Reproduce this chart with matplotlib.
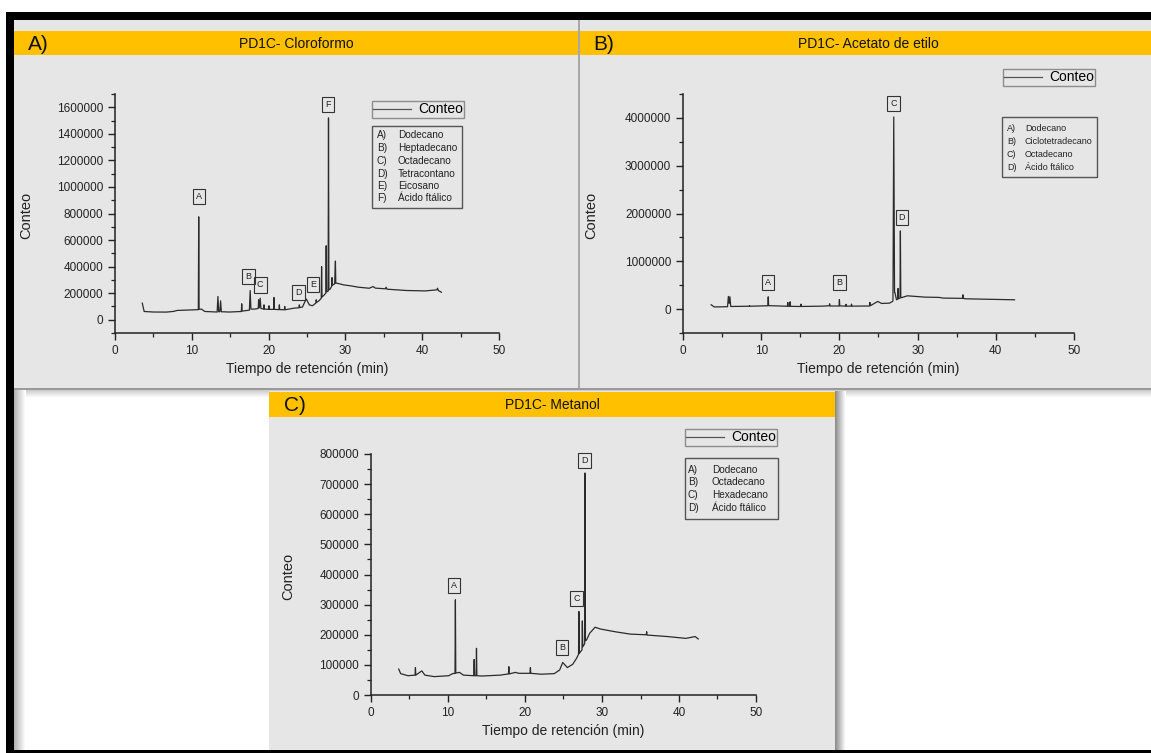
import numpy as np
import matplotlib
matplotlib.use("Agg")
import matplotlib.pyplot as plt
from matplotlib.patches import Rectangle
from matplotlib.ticker import MultipleLocator, StrMethodFormatter

plt.rcParams['font.family'] = ['Liberation Sans', 'DejaVu Sans']
NARROW = ['Liberation Sans Narrow', 'Liberation Sans', 'DejaVu Sans']

# -----------------------------
# Data
# -----------------------------
# A) PD1C- Cloroformo
t_a = [3.55, 3.8, 5.0, 6.7, 7.6, 8.1, 10.5, 10.85, 10.9, 10.95, 11.25, 11.7,
       13.3, 13.4, 13.5, 13.65, 13.75, 13.85, 14.9, 16.45, 16.5, 16.55,
       17.5, 17.6, 17.7, 18.2, 18.65, 18.7, 18.8, 18.9, 19.0, 19.35, 19.4, 19.45,
       20.0, 20.05, 20.1, 20.65, 20.7, 20.75, 21.35, 21.4, 21.45, 22.05, 22.1, 22.15,
       23.3, 23.95, 24.0, 24.05, 24.4, 24.9, 25.3, 25.7, 26.15, 26.2, 26.25, 26.5,
       26.85, 26.9, 26.95, 27.3, 27.45, 27.5, 27.55, 27.75, 27.8, 27.85, 28.0,
       28.2, 28.25, 28.3, 28.6, 28.7, 28.75, 28.9, 29.8, 30.7, 31.7, 33.1, 33.6,
       33.9, 35.2, 35.3, 35.4, 38.0, 40.4, 41.9, 42.0, 42.1, 42.5]
v_a = [125000, 62000, 58000, 57500, 62500, 70000, 75000, 76000, 775000, 78000, 80000, 62000,
       58000, 175000, 60000, 60000, 142000, 60000, 58000, 62000, 120000, 65000,
       72000, 220000, 80000, 80000, 85000, 150000, 90000, 162000, 85000, 80000, 112000, 80000,
       78000, 105000, 78000, 78000, 167000, 78000, 76000, 112000, 76000, 75000, 100000, 75000,
       87000, 90000, 112000, 92000, 95000, 157000, 112000, 105000, 125000, 150000, 130000, 140000,
       160000, 400000, 170000, 190000, 200000, 557000, 210000, 215000, 1520000, 225000, 230000,
       250000, 317000, 260000, 270000, 442000, 275000, 275000, 262000, 255000, 245000, 237000, 250000,
       238000, 233000, 245000, 230000, 220000, 217000, 225000, 237000, 220000, 207000]
tags_a = ['A', 'B', 'C', 'D', 'E', 'F']
tag_x_a = [10.9, 17.4, 18.9, 23.85, 25.8, 27.75]
tag_y_a = [930000, 325000, 262000, 205000, 267000, 1620000]
compounds_a = ['Dodecano', 'Heptadecano', 'Octadecano', 'Tetracontano', 'Eicosano', 'Ácido ftálico']

# B) PD1C- Acetato de etilo
t_b = [3.6, 4.0, 5.7, 5.8, 5.9, 6.0, 6.1, 8.45, 8.5, 8.55, 10.85, 10.9, 10.95,
       13.35, 13.4, 13.45, 13.65, 13.7, 13.75, 15.05, 15.1, 15.15, 17.9,
       18.7, 18.75, 18.8, 19.95, 20.0, 20.05, 20.8, 20.85, 20.9, 21.5, 21.55, 21.6,
       23.85, 23.9, 23.95, 24.9, 25.4, 26.4, 26.8, 26.85, 26.95, 27.05, 27.1, 27.3,
       27.45, 27.5, 27.55, 27.75, 27.8, 27.85, 28.0, 28.7, 31.0, 32.7, 33.3,
       35.75, 35.8, 35.85, 36.1, 38.0, 42.4]
v_b = [90000, 45000, 50000, 265000, 120000, 260000, 55000, 60000, 76000, 60000, 70000, 257000, 72000,
       60000, 139000, 60000, 60000, 153000, 58000, 55000, 104000, 55000, 62000,
       70000, 111000, 65000, 65000, 200000, 68000, 62000, 100000, 62000, 62000, 104000, 62000,
       65000, 139000, 70000, 160000, 118000, 125000, 160000, 180000, 4020000, 350000, 348000, 195000,
       210000, 431000, 215000, 230000, 1635000, 240000, 243000, 278000, 250000, 245000, 230000,
       225000, 299000, 225000, 216000, 209000, 195000]
tags_b = ['A', 'B', 'C', 'D']
tag_x_b = [10.9, 20.0, 26.9, 28.0]
tag_y_b = [556000, 556000, 4300000, 1920000]
compounds_b = ['Dodecano', 'Ciclotetradecano', 'Octadecano', 'Ácido ftálico']

# C) PD1C- Metanol
t_c = [3.6, 3.85, 4.8, 5.72, 5.77, 5.82, 6.6, 7.0, 8.2, 10.1, 10.6, 10.91, 10.96, 11.01,
       11.5, 12.0, 13.35, 13.4, 13.45, 13.65, 13.7, 13.75, 14.4, 16.8, 17.85, 17.9, 17.95,
       18.75, 19.2, 20.65, 20.7, 20.75, 22.1, 23.8, 24.5, 24.9, 25.5, 26.2, 26.7,
       26.95, 27.0, 27.05, 27.4, 27.45, 27.5, 27.75, 27.8, 27.85, 28.0, 28.4, 29.1,
       29.8, 31.7, 33.7, 35.75, 35.8, 35.85, 38.5, 40.9, 42.1, 42.5]
v_c = [86000, 71000, 64000, 66000, 91000, 66000, 80000, 66000, 61000, 64000, 71000, 72000, 316000, 73000,
       75000, 66000, 64000, 118000, 64000, 64000, 155000, 64000, 63000, 66000, 70000, 94000, 70000,
       75000, 72000, 72000, 91000, 72000, 69000, 71000, 83000, 108000, 91000, 102000, 122000,
       135000, 277000, 138000, 150000, 246000, 160000, 170000, 737000, 180000, 183000, 205000, 225000,
       219000, 210000, 202000, 200000, 210000, 199000, 194000, 188000, 194000, 186000]
tags_c = ['A', 'B', 'C', 'D']
tag_x_c = [10.8, 24.8, 26.7, 27.7]
tag_y_c = [363000, 157000, 321000, 779000]
compounds_c = ['Dodecano', 'Octadecano', 'Hexadecano', 'Ácido ftálico']

# -----------------------------
# Figure and page decoration (pixel coordinates)
# -----------------------------
W, H = 1151, 753
fig = plt.figure(figsize=(W / 100, H / 100), dpi=100)
fig.patch.set_facecolor('white')

bg = fig.add_axes([0, 0, 1, 1], zorder=0)
bg.axis('off')

PANEL = '#e6e6e6'
ORANGE = '#ffc000'


def rect(x0, y0, x1, y1, color):
    bg.add_patch(Rectangle((x0, y0), x1 - x0, y1 - y0, color=color, lw=0))


def gradient(x0, y0, x1, y1, c0, c1, vertical=True):
    g = np.linspace(c0, c1, 12)
    img = g[:, None] if vertical else g[None, :]
    bg.imshow(img, cmap='gray', vmin=0, vmax=1, aspect='auto',
              extent=(x0, x1, y1, y0), origin='upper', interpolation='bilinear')


# panels A and B
rect(14, 20, W, 389, PANEL)
gradient(14, 20, W, 31, 0.62, 0.90)
rect(14, 31, W, 55, ORANGE)
rect(578, 20, 580, 389, '#a8a8a8')
rect(14, 388, W, 390, '#9a9a9a')
# shadow below A/B
gradient(14, 390, W, 398, 0.80, 1.0)
gradient(14, 390, 26, 750, 0.70, 1.0, vertical=False)
# panel C
rect(269, 391, 835, 750, PANEL)
rect(269, 392, 835, 417, ORANGE)
gradient(835, 391, 846, 750, 0.55, 1.0, vertical=False)
# black frame
rect(6, 12, W, 20, 'black')
rect(6, 12, 14, H, 'black')
rect(6, 750, W, H, 'black')

bg.set_xlim(0, W)
bg.set_ylim(H, 0)

# panel headings
for letter, lx, title, tx, ty in [('A)', 28, 'PD1C- Cloroformo', 296, 43),
                                  ('B)', 593, 'PD1C- Acetato de etilo', 868, 43),
                                  ('C)', 284, 'PD1C- Metanol', 552, 404)]:
    bg.text(lx, ty + 1, letter, fontsize=15, ha='left', va='center', color='#111')
    bg.text(tx, ty + 1, title, fontsize=10, ha='center', va='center',
            family=NARROW, color='#111')


# -----------------------------
# Chromatogram axes
# -----------------------------
def add_axes_px(l, t, r, b):
    return fig.add_axes([l / W, 1 - b / H, (r - l) / W, (b - t) / H], zorder=2)


def chromatogram(ax, t, v, ylim, ymajor, yminor, label_xy):
    line, = ax.plot(t, v, color='#2b2b2b', lw=0.9, label='Conteo')
    ax.set_facecolor('none')
    ax.set_xlim(0, 50)
    ax.set_ylim(*ylim)
    for s in ['top', 'right']:
        ax.spines[s].set_visible(False)
    for s in ['left', 'bottom']:
        ax.spines[s].set_linewidth(1.1)
        ax.spines[s].set_color('#222')
    ax.xaxis.set_major_locator(MultipleLocator(10))
    ax.xaxis.set_minor_locator(MultipleLocator(5))
    ax.yaxis.set_major_locator(MultipleLocator(ymajor))
    ax.yaxis.set_minor_locator(MultipleLocator(yminor))
    ax.yaxis.set_major_formatter(StrMethodFormatter('{x:.0f}'))
    ax.tick_params(which='major', direction='out', length=5, width=1, labelsize=8.5,
                   colors='#222')
    ax.tick_params(which='minor', direction='out', length=3, width=0.9, colors='#222')
    ax.set_xlabel('Tiempo de retención (min)', fontsize=10, color='#222')
    ax.set_ylabel('Conteo', fontsize=10.5, family=NARROW, color='#222')
    ax.xaxis.set_label_coords(0.5, label_xy[1])
    ax.yaxis.set_label_coords(label_xy[0], 0.49)
    return line


def tags(ax, names, xs, ys):
    for n, x, y in zip(names, xs, ys):
        ax.text(x, y, n, fontsize=6.5, ha='center', va='center', family=NARROW,
                color='#222',
                bbox=dict(boxstyle='square,pad=0.35', fc='none', ec='#333', lw=0.8))


def legend_conteo(ax, line, l, t):
    leg = ax.legend(handles=[line], loc='upper left', bbox_to_anchor=(l / W, 1 - t / H),
                    bbox_transform=fig.transFigure, fontsize=10, frameon=True,
                    fancybox=False, borderpad=0.1, borderaxespad=0, handlelength=2.7,
                    handletextpad=0.5)
    leg.get_frame().set_edgecolor('#777')
    leg.get_frame().set_facecolor('none')
    leg.get_frame().set_linewidth(1.0)
    leg.get_lines()[0].set_color('#555')
    leg.get_lines()[0].set_linewidth(0.9)


def compound_box(l, t, r, b, names, letter_x, name_x, rows_y, size):
    bg.add_patch(Rectangle((l, t), r - l, b - t, fc='none', ec='#555', lw=1.0))
    for i, (n, y) in enumerate(zip(names, rows_y)):
        bg.text(letter_x, y, f'{chr(65 + i)})', fontsize=size, family=NARROW,
                ha='left', va='center', color='#222')
        bg.text(name_x, y, n, fontsize=size, family=NARROW,
                ha='left', va='center', color='#222')


# A
axA = add_axes_px(115, 94, 499, 333)
lineA = chromatogram(axA, t_a, v_a, (-100000, 1700000), 200000, 100000, (-0.213, -0.121))
tags(axA, tags_a, tag_x_a, tag_y_a)
legend_conteo(axA, lineA, 372, 101)
compound_box(372, 126, 462, 208, compounds_a, 377, 398,
             [135, 148, 161, 174, 186, 198], 7.2)

# B
axB = add_axes_px(683, 94, 1074, 333)
lineB = chromatogram(axB, t_b, v_b, (-500000, 4500000), 1000000, 500000, (-0.217, -0.121))
tags(axB, tags_b, tag_x_b, tag_y_b)
legend_conteo(axB, lineB, 1003, 69)
compound_box(1002, 117, 1097, 177, compounds_b, 1007, 1025,
             [128, 141, 154, 167], 6.5)

# C
axC = add_axes_px(371, 454, 756, 695)
lineC = chromatogram(axC, t_c, v_c, (0, 800000), 100000, 50000, (-0.197, -0.12))
tags(axC, tags_c, tag_x_c, tag_y_c)
legend_conteo(axC, lineC, 685, 429)
compound_box(685, 458, 778, 519, compounds_c, 688, 712,
             [470, 482, 495, 508], 7.2)

fig.savefig('out.png', dpi=100)
